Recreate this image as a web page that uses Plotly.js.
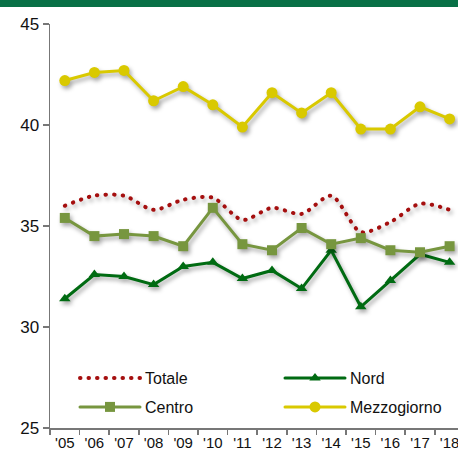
<!DOCTYPE html>
<html>
<head>
<meta charset="utf-8">
<script src="https://cdn.plot.ly/plotly-3.0.1.min.js"></script>
<style>
html,body{margin:0;padding:0;background:#fff;}
#chart{width:458px;height:459px;}
.scatterlayer .trace{filter:drop-shadow(2px 3px 2px rgba(0,0,0,0.35));}
path.js-line{stroke-linecap:round;}
</style>
</head>
<body>
<div id="chart"></div>
<script>
var years = ["'05","'06","'07","'08","'09","'10","'11","'12","'13","'14","'15","'16","'17","'18"];
var totale = [36.0,36.5,36.5,35.8,36.3,36.4,35.3,35.9,35.6,36.5,34.7,35.2,36.1,35.8];
var nord = [31.4,32.6,32.5,32.1,33.0,33.2,32.4,32.8,31.9,33.8,31.0,32.3,33.6,33.2];
var centro = [35.4,34.5,34.6,34.5,34.0,35.9,34.1,33.8,34.9,34.1,34.4,33.8,33.7,34.0];
var mezzogiorno = [42.2,42.6,42.7,41.2,41.9,41.0,39.9,41.6,40.6,41.6,39.8,39.8,40.9,40.3];

var W = 458, H = 459, mL = 50, mR = 0, mT = 24, mB = 31;
var plotW = W - mL - mR, plotH = H - mT - mB;
function px2x(p){ return (p - mL) / plotW; }
function py2y(p){ return (H - mB - p) / plotH; }

var traces = [
  {x: years, y: totale, name: 'Totale', type: 'scatter', mode: 'lines',
   line: {color: '#a50f0f', width: 4, dash: '0.5px,8px', shape: 'spline', smoothing: 0.8},
   legend: 'legend'},
  {x: years, y: nord, name: 'Nord', type: 'scatter', mode: 'lines+markers',
   line: {color: '#006b12', width: 3},
   marker: {symbol: 'triangle-up', size: 10, color: '#006b12'},
   legend: 'legend2'},
  {x: years, y: centro, name: 'Centro', type: 'scatter', mode: 'lines+markers',
   line: {color: '#77963f', width: 3},
   marker: {symbol: 'square', size: 10, color: '#77963f'},
   legend: 'legend3'},
  {x: years, y: mezzogiorno, name: 'Mezzogiorno', type: 'scatter', mode: 'lines+markers',
   line: {color: '#d9c900', width: 3},
   marker: {symbol: 'circle', size: 11, color: '#d9c900'},
   legend: 'legend4'}
];

function leg(xp, yp){
  return {
    orientation: 'v', x: px2x(xp), xanchor: 'left', y: py2y(yp), yanchor: 'middle',
    itemwidth: 60, bgcolor: 'rgba(0,0,0,0)', borderwidth: 0,
    font: {family: 'Liberation Sans, Arial, sans-serif', size: 16, color: '#111'},
    itemclick: false
  };
}

var layout = {
  width: W, height: H,
  margin: {l: mL, r: mR, t: mT, b: mB, pad: 0},
  paper_bgcolor: '#fff', plot_bgcolor: '#fff',
  showlegend: true,
  legend: leg(75, 378),
  legend2: leg(280, 378),
  legend3: leg(75, 407),
  legend4: leg(280, 407),
  font: {family: 'Liberation Sans, Arial, sans-serif', size: 15, color: '#111'},
  xaxis: {
    type: 'category', range: [-0.5, -0.5 + plotW / 29.6],
    tickson: 'boundaries', ticks: 'outside', ticklen: 5, tickcolor: '#777', tickwidth: 1.5,
    showline: true, linecolor: '#777', linewidth: 1.5, showgrid: false, zeroline: false,
    tickfont: {size: 15, color: '#111'}, fixedrange: true
  },
  yaxis: {
    range: [25, 45], dtick: 5, tick0: 25, ticks: 'outside', ticklen: 6, tickcolor: '#777', tickwidth: 1.5,
    showline: true, linecolor: '#777', linewidth: 1.5, showgrid: false, zeroline: false,
    tickfont: {size: 17, color: '#111'}, fixedrange: true
  },
  shapes: [{
    type: 'rect', xref: 'paper', yref: 'paper', layer: 'above',
    x0: px2x(0), x1: px2x(W), y0: py2y(7), y1: py2y(-2),
    fillcolor: '#087046', line: {width: 0}
  }]
};

Plotly.newPlot('chart', traces, layout, {displayModeBar: false, staticPlot: true});
</script>
</body>
</html>
